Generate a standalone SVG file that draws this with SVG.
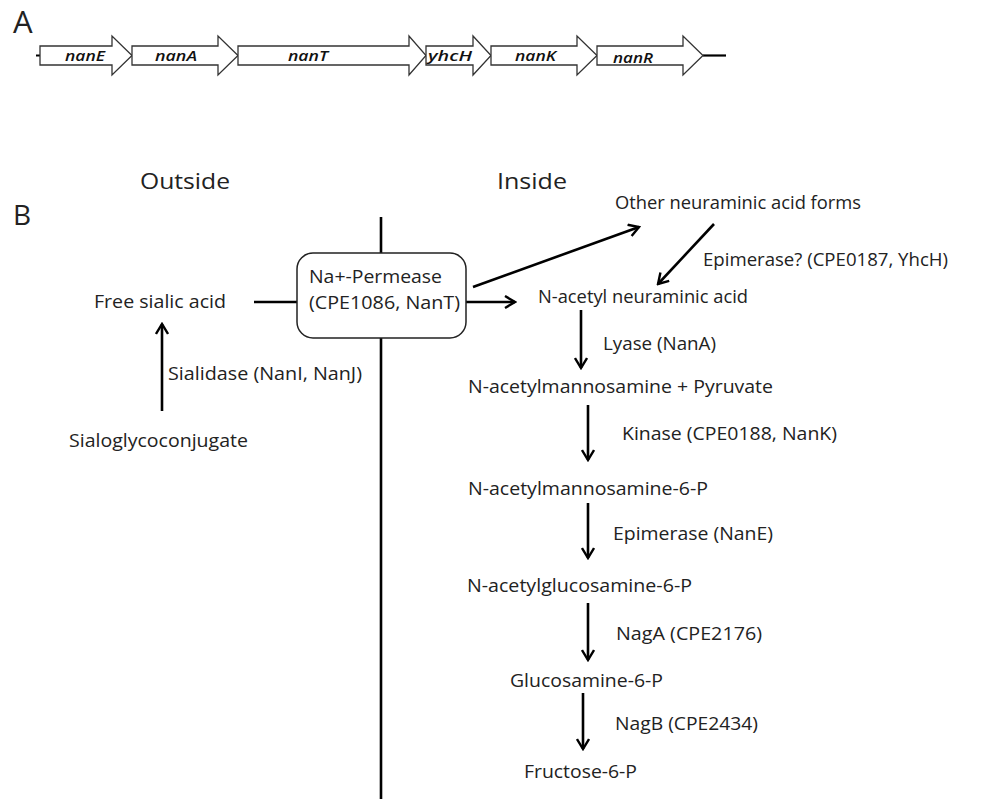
<svg xmlns="http://www.w3.org/2000/svg" width="993" height="799" viewBox="0 0 993 799">
<defs>
<marker id="arr" viewBox="0 0 14 14" markerWidth="14" markerHeight="14" markerUnits="userSpaceOnUse" refX="12" refY="7" orient="auto">
<path d="M2,1 L12,7 L2,13" fill="none" stroke="#000" stroke-width="2.4"/>
</marker>
<style>
text{font-family:"Open Sans","Liberation Sans",sans-serif;fill:#222;}
.t{font-size:18px;}
.g{font-size:15px;font-style:italic;font-weight:600;fill:#111;}
.gene{fill:#fff;stroke:#333;stroke-width:1.3;}
.ln{stroke:#000;stroke-width:2.6;fill:none;}
.ar{stroke:#000;stroke-width:2.6;fill:none;marker-end:url(#arr);}
</style>
</defs>
<rect width="993" height="799" fill="#fff"/>
<g id="panelA">
<text x="13" y="33" style="font-size:31px">A</text>
<line x1="36" y1="55.5" x2="40" y2="55.5" stroke="#000" stroke-width="2"/>
<line x1="703" y1="55.5" x2="726" y2="55.5" stroke="#000" stroke-width="2.2"/>
<g id="nanE"><polygon class="gene" points="40,46 112,46 112,36 132,55.5 112,75 112,65 40,65"/><text class="g" x="65" y="61" textLength="40" lengthAdjust="spacingAndGlyphs">nanE</text></g>
<g id="nanA"><polygon class="gene" points="132,46 218,46 218,36 238,55.5 218,75 218,65 132,65"/><text class="g" x="155" y="61" textLength="42" lengthAdjust="spacingAndGlyphs">nanA</text></g>
<g id="nanT"><polygon class="gene" points="238,46 409,46 409,36 426,55.5 409,75 409,65 238,65"/><text class="g" x="288" y="61" textLength="40" lengthAdjust="spacingAndGlyphs">nanT</text></g>
<g id="yhcH"><polygon class="gene" points="426,46 473,46 473,36 491,55.5 473,75 473,65 426,65"/><text class="g" x="428" y="61" textLength="44" lengthAdjust="spacingAndGlyphs">yhcH</text></g>
<g id="nanK"><polygon class="gene" points="491,46 577,46 577,36 597,55.5 577,75 577,65 491,65"/><text class="g" x="515" y="61" textLength="41" lengthAdjust="spacingAndGlyphs">nanK</text></g>
<g id="nanR"><polygon class="gene" points="597,46 683,46 683,36 703,55.5 683,75 683,65 597,65"/><text class="g" x="613" y="63" textLength="40" lengthAdjust="spacingAndGlyphs">nanR</text></g>
</g>
<text x="13" y="225" style="font-size:28px">B</text>
<text x="140" y="189" style="font-size:22px" textLength="90" lengthAdjust="spacingAndGlyphs">Outside</text>
<text x="497" y="189" style="font-size:22px" textLength="70" lengthAdjust="spacingAndGlyphs">Inside</text>
<g id="connectors">
<line class="ln" x1="381" y1="217" x2="381" y2="799"/>
<line class="ln" x1="254" y1="302" x2="297" y2="302"/>
<line class="ar" x1="162" y1="411" x2="162" y2="324"/>
<line class="ar" x1="466" y1="302" x2="515" y2="302"/>
<line class="ar" x1="473" y1="287" x2="639" y2="227"/>
<line class="ar" x1="714" y1="224" x2="658" y2="284"/>
<line class="ar" x1="581" y1="310" x2="581" y2="368"/>
<line class="ar" x1="588" y1="405" x2="588" y2="460"/>
<line class="ar" x1="588" y1="503" x2="588" y2="558"/>
<line class="ar" x1="588" y1="603" x2="588" y2="660"/>
<line class="ar" x1="583" y1="693" x2="583" y2="749"/>
</g>
<g id="permease">
<rect x="297" y="253" width="169" height="85" rx="16" fill="#fff" stroke="#222" stroke-width="1.5"/>
<text class="t" x="309" y="283" textLength="133" lengthAdjust="spacingAndGlyphs">Na+-Permease</text>
<text class="t" x="309" y="309" textLength="151" lengthAdjust="spacingAndGlyphs">(CPE1086, NanT)</text>
</g>
<g id="free"><text class="t" x="94" y="308" textLength="132" lengthAdjust="spacingAndGlyphs">Free sialic acid</text></g>
<g id="sialidase"><text class="t" x="168" y="380" textLength="194" lengthAdjust="spacingAndGlyphs">Sialidase (NanI, NanJ)</text></g>
<g id="sialo"><text class="t" x="69" y="447" textLength="179" lengthAdjust="spacingAndGlyphs">Sialoglycoconjugate</text></g>
<g id="other"><text class="t" x="615" y="209" textLength="246" lengthAdjust="spacingAndGlyphs">Other neuraminic acid forms</text></g>
<g id="epi1"><text class="t" x="703" y="266" textLength="245" lengthAdjust="spacingAndGlyphs">Epimerase? (CPE0187, YhcH)</text></g>
<g id="neu5ac"><text class="t" x="538" y="303" textLength="210" lengthAdjust="spacingAndGlyphs">N-acetyl neuraminic acid</text></g>
<g id="lyase"><text class="t" x="603" y="350" textLength="113" lengthAdjust="spacingAndGlyphs">Lyase (NanA)</text></g>
<g id="manNAc"><text class="t" x="468" y="393" textLength="305" lengthAdjust="spacingAndGlyphs">N-acetylmannosamine + Pyruvate</text></g>
<g id="kinase"><text class="t" x="622" y="440" textLength="215" lengthAdjust="spacingAndGlyphs">Kinase (CPE0188, NanK)</text></g>
<g id="manNAc6P"><text class="t" x="468" y="495" textLength="240" lengthAdjust="spacingAndGlyphs">N-acetylmannosamine-6-P</text></g>
<g id="epi2"><text class="t" x="613" y="540" textLength="160" lengthAdjust="spacingAndGlyphs">Epimerase (NanE)</text></g>
<g id="glcNAc6P"><text class="t" x="467" y="592" textLength="225" lengthAdjust="spacingAndGlyphs">N-acetylglucosamine-6-P</text></g>
<g id="nagA"><text class="t" x="616" y="640" textLength="146" lengthAdjust="spacingAndGlyphs">NagA (CPE2176)</text></g>
<g id="glcN6P"><text class="t" x="510" y="687" textLength="153" lengthAdjust="spacingAndGlyphs">Glucosamine-6-P</text></g>
<g id="nagB"><text class="t" x="615" y="730" textLength="143" lengthAdjust="spacingAndGlyphs">NagB (CPE2434)</text></g>
<g id="fru6P"><text class="t" x="524" y="778" textLength="113" lengthAdjust="spacingAndGlyphs">Fructose-6-P</text></g>
</svg>
